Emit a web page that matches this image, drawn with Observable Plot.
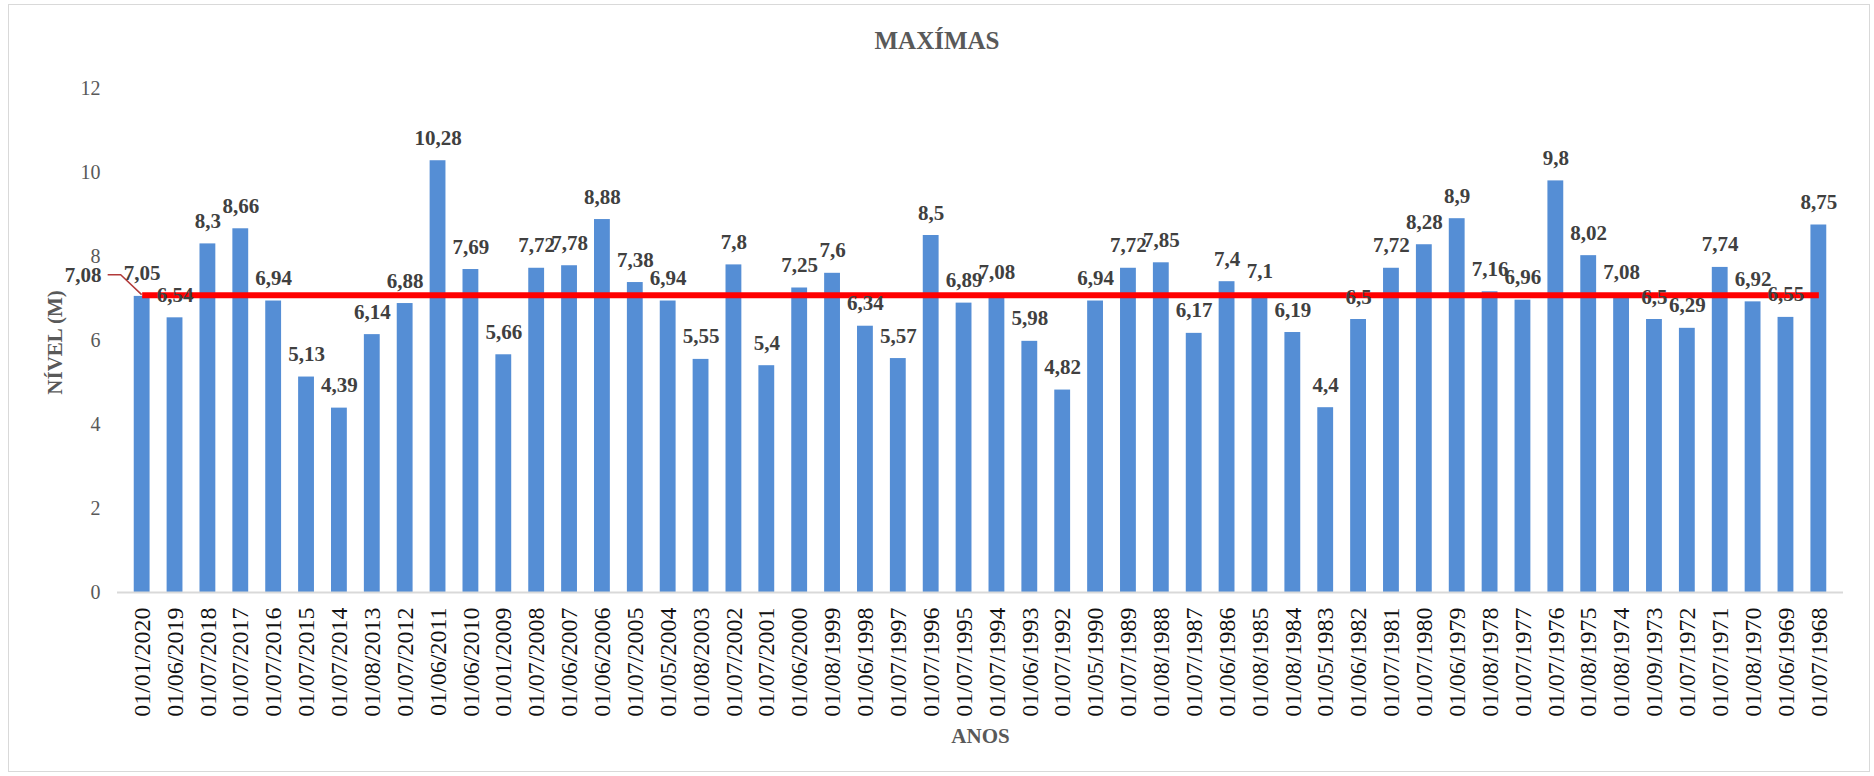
<!DOCTYPE html>
<html>
<head>
<meta charset="utf-8">
<script src="https://cdn.jsdelivr.net/npm/d3@7"></script>
<script src="https://cdn.jsdelivr.net/npm/@observablehq/plot@0.6"></script>
<style>
  body { margin: 0; background: #fff; }
  #wrap { position: relative; width: 1874px; height: 776px; overflow: hidden; font-family: "Liberation Serif", "Times New Roman", serif; background: #fff; }
  #frame { position: absolute; left: 8px; top: 4px; width: 1862px; height: 768px; border: 1.5px solid #D9D9D9; box-sizing: border-box; pointer-events: none; }
  #title { height: 66px; box-sizing: border-box; padding-top: 26px; line-height: 30px; text-align: center; font-weight: bold; font-size: 25px; color: #595959; }
  #chart svg { display: block; overflow: visible; }
</style>
</head>
<body>
<div id="wrap">
  <div id="frame"></div>
  <div id="title">MAXÍMAS</div>
  <div id="chart"></div>
</div>
<script>
// Categories (dates of annual maxima)
const datas = [
  "01/01/2020","01/06/2019","01/07/2018","01/07/2017","01/07/2016","01/07/2015","01/07/2014","01/08/2013",
  "01/07/2012","01/06/2011","01/06/2010","01/01/2009","01/07/2008","01/06/2007","01/06/2006","01/07/2005",
  "01/05/2004","01/08/2003","01/07/2002","01/07/2001","01/06/2000","01/08/1999","01/06/1998","01/07/1997",
  "01/07/1996","01/07/1995","01/07/1994","01/06/1993","01/07/1992","01/05/1990","01/07/1989","01/08/1988",
  "01/07/1987","01/06/1986","01/08/1985","01/08/1984","01/05/1983","01/06/1982","01/07/1981","01/07/1980",
  "01/06/1979","01/08/1978","01/07/1977","01/07/1976","01/08/1975","01/08/1974","01/09/1973","01/07/1972",
  "01/07/1971","01/08/1970","01/06/1969","01/07/1968"
];
// Maximum level (m)
const niveis = [
  7.05, 6.54, 8.3, 8.66, 6.94, 5.13, 4.39, 6.14,
  6.88, 10.28, 7.69, 5.66, 7.72, 7.78, 8.88, 7.38,
  6.94, 5.55, 7.8, 5.4, 7.25, 7.6, 6.34, 5.57,
  8.5, 6.89, 7.08, 5.98, 4.82, 6.94, 7.72, 7.85,
  6.17, 7.4, 7.1, 6.19, 4.4, 6.5, 7.72, 8.28,
  8.9, 7.16, 6.96, 9.8, 8.02, 7.08, 6.5, 6.29,
  7.74, 6.92, 6.55, 8.75
];
// Mean level series
const mediaValor = 7.08;
const medias = datas.map(() => mediaValor);
// Y tick values
const yTicks = [0, 2, 4, 6, 8, 10, 12];

const fmt = v => String(v).replace(".", ",");
const table = datas.map((d, i) => ({data: d, nivel: niveis[i], media: medias[i]}));
const firstPoint = [table[0]];

const FONT = '"Liberation Serif", "Times New Roman", serif';

// leader line for the mean label (drawn through the scales)
const leader = Plot.line(firstPoint, {
  x: "data", y: "media",
  render(index, scales, values, dimensions, context) {
    const bw = scales.x.bandwidth ? scales.x.bandwidth() : 0;
    const x0 = scales.x(table[0].data) + bw / 2;
    const y0 = scales.y(table[0].media);
    const path = d3.path();
    path.moveTo(x0, y0);
    path.lineTo(x0 - 21, y0 - 20);
    path.lineTo(x0 - 34, y0 - 20);
    const g = d3.create("svg:g");
    g.append("path").attr("d", path.toString()).attr("fill", "none")
      .attr("stroke", "#B23A3A").attr("stroke-width", 1.5);
    return g.node();
  }
});

const chart = Plot.plot({
  width: 1874,
  height: 710,
  marginTop: 22,
  marginBottom: 184,
  marginLeft: 117,
  marginRight: 31,
  style: {fontFamily: FONT, background: "transparent"},
  x: {domain: datas, padding: 0.5, label: null},
  y: {domain: [0, 12], label: null},
  marks: [
    Plot.barY(table, {x: "data", y: "nivel", fill: "#558ED5", insetLeft: 0.3, insetRight: 0.3}),
    Plot.ruleY([0], {stroke: "#D9D9D9", strokeWidth: 2}),
    Plot.axisY({ticks: yTicks, tickSize: 0, tickPadding: 17, fontSize: 20, color: "#595959", label: null}),
    Plot.axisX({tickRotate: -90, tickSize: 0, tickPadding: 15, fontSize: 24, color: "#111", label: null}),
    Plot.line(table, {x: "data", y: "media", stroke: "#FF0000", strokeWidth: 6, strokeLinecap: "butt"}),
    leader,
    Plot.text(table, {x: "data", y: "nivel", text: d => fmt(d.nivel), dy: -16, lineAnchor: "bottom",
      fontSize: 21, fontWeight: "bold", fill: "#404040"}),
    Plot.text(firstPoint, {x: "data", y: "media", text: d => fmt(d.media), dx: -59, dy: -20,
      fontSize: 21, fontWeight: "bold", fill: "#404040", lineAnchor: "middle"}),
    Plot.text(["NÍVEL (M)"], {frameAnchor: "left", dx: -62, dy: 2, rotate: -90, text: d => d,
      textAnchor: "middle", fontSize: 21, fontWeight: "bold", fill: "#595959", lineAnchor: "middle"}),
    Plot.text(["ANOS"], {frameAnchor: "bottom", dy: 144, text: d => d, textAnchor: "middle",
      fontSize: 21, fontWeight: "bold", fill: "#595959", lineAnchor: "middle"})
  ]
});
document.getElementById("chart").appendChild(chart);
</script>
</body>
</html>
